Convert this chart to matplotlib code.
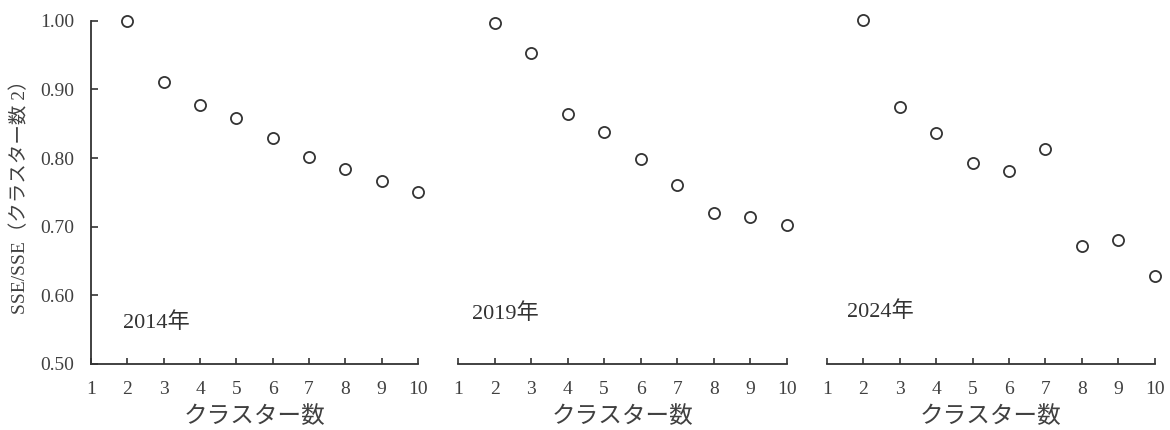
import matplotlib.pyplot as plt

plt.rcParams['font.family'] = ['Liberation Serif', 'Noto Sans CJK JP']

clusters = [2, 3, 4, 5, 6, 7, 8, 9, 10]
sse_2014 = [1.000, 0.911, 0.877, 0.858, 0.829, 0.802, 0.784, 0.767, 0.750]
sse_2019 = [0.997, 0.953, 0.864, 0.838, 0.798, 0.761, 0.720, 0.714, 0.703]
sse_2024 = [1.001, 0.875, 0.837, 0.793, 0.781, 0.813, 0.672, 0.680, 0.628]
years = ['2014年', '2019年', '2024年']
year_pos = [(1.88, 0.561), (1.38, 0.574), (1.54, 0.577)]
x_ticks = list(range(1, 11))
y_ticks = [0.50, 0.60, 0.70, 0.80, 0.90, 1.00]

ink = '#333333'
jp = ['Noto Sans CJK JP', 'DejaVu Sans']

fig = plt.figure(figsize=(11.7, 4.3), dpi=100)
lefts = [0.0778, 0.3915, 0.7068]
widths = [0.2795, 0.281, 0.280]

for i, series in enumerate([sse_2014, sse_2019, sse_2024]):
    ax = fig.add_axes([lefts[i], 0.1535, widths[i], 0.798])
    ax.plot(clusters, series, linestyle='none', marker='o', markersize=8,
            markerfacecolor='white', markeredgecolor=ink, markeredgewidth=1.3,
            clip_on=False)
    ax.set_xlim(1, 10)
    ax.set_ylim(0.5, 1.0)
    ax.set_xticks(x_ticks)
    ax.set_xticklabels([str(t) for t in x_ticks])
    ax.tick_params(axis='x', direction='in', length=4, width=1.2, color=ink,
                   labelsize=14, labelcolor='#404040', pad=12)
    for s in ['top', 'right']:
        ax.spines[s].set_visible(False)
    ax.spines['bottom'].set_color(ink)
    ax.spines['bottom'].set_linewidth(1.3)
    if i == 0:
        ax.set_yticks(y_ticks)
        ax.set_yticklabels(['%.2f' % v for v in y_ticks])
        ax.tick_params(axis='y', direction='in', length=5, width=1.2, color=ink,
                       labelsize=14, labelcolor='#404040', pad=12)
        ax.spines['left'].set_color(ink)
        ax.spines['left'].set_linewidth(1.3)
        ax.set_ylabel('SSE/SSE（クラスター数 2）', fontsize=14, color='#404040',
                      labelpad=8)
    else:
        ax.spines['left'].set_visible(False)
        ax.set_yticks([])
    ax.set_xlabel('クラスター数', fontsize=17, color='#404040', family=jp,
                  labelpad=5)
    ax.text(year_pos[i][0], year_pos[i][1], years[i], fontsize=16,
            color='#333333', va='center', ha='left')

fig.savefig('out.png', dpi=100)
